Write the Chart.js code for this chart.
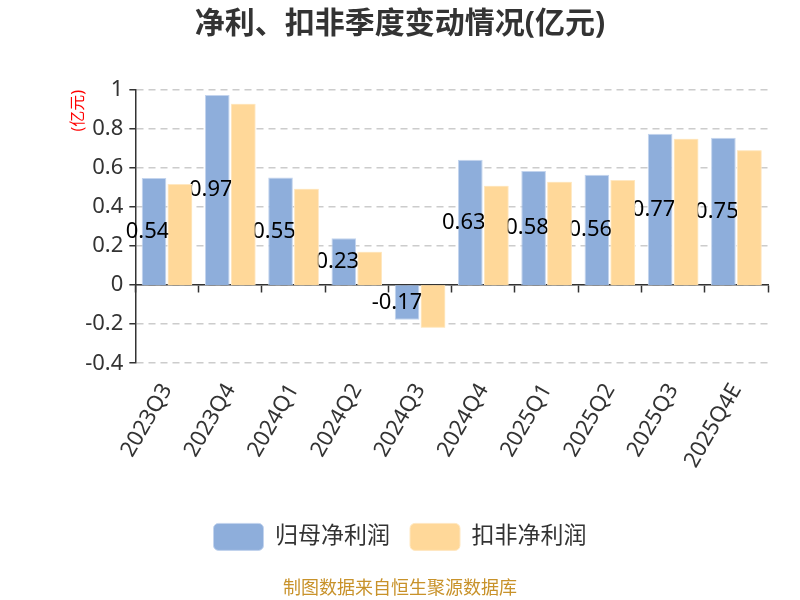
<!DOCTYPE html>
<html>
<head>
<meta charset="utf-8">
<script src="https://cdn.jsdelivr.net/npm/chart.js@4.4.1/dist/chart.umd.min.js"></script>
<style>
  html, body { margin: 0; padding: 0; background: #fff; }
  #wrap { width: 800px; height: 600px; }
</style>
</head>
<body>
<div id="wrap"><canvas id="chart"></canvas></div>
<script>
// données
const quarters = ["2023Q3", "2023Q4", "2024Q1", "2024Q2", "2024Q3", "2024Q4", "2025Q1", "2025Q2", "2025Q3", "2025Q4E"];
const netProfit = [0.549, 0.974, 0.552, 0.240, -0.177, 0.643, 0.585, 0.566, 0.776, 0.755];
const netProfitLabels = ["0.54", "0.97", "0.55", "0.23", "-0.17", "0.63", "0.58", "0.56", "0.77", "0.75"];
const deductedProfit = [0.518, 0.930, 0.494, 0.171, -0.218, 0.510, 0.530, 0.539, 0.750, 0.691];
const seriesNames = ["归母净利润", "扣非净利润"];

const FONT = "'Noto Sans', 'Noto Sans CJK SC', sans-serif";

// étiquettes au milieu des barres bleues, puis on redessine les barres orange par-dessus
const barLabels = {
  id: "barLabels",
  afterDatasetDraw(chart, args) {
    if (args.index !== 0) return;
    const ctx = chart.ctx;
    ctx.save();
    ctx.font = "22px " + FONT;
    ctx.fillStyle = "#000";
    ctx.textAlign = "right";
    ctx.textBaseline = "middle";
    args.meta.data.forEach((bar, i) => {
      const p = bar.getProps(["x", "y", "base", "width"], true);
      ctx.fillText(netProfitLabels[i], p.x + p.width / 2 + 3, (p.y + p.base) / 2);
    });
    chart.getDatasetMeta(1).data.forEach((el) => el.draw(ctx));
    ctx.restore();
  },
};

new Chart(document.getElementById("chart"), {
  type: "bar",
  data: {
    labels: quarters,
    datasets: [
      {
        label: seriesNames[0],
        data: netProfit,
        xAxisID: "x",
        backgroundColor: "#8eaedb",
        borderColor: "#c3d4ee",
        borderWidth: 1,
      },
      {
        label: seriesNames[1],
        data: deductedProfit,
        xAxisID: "x",
        backgroundColor: "#ffd899",
        borderColor: "#ffe8c2",
        borderWidth: 1,
      },
    ],
  },
  options: {
    responsive: true,
    maintainAspectRatio: false,
    animation: false,
    datasets: { bar: { barPercentage: 0.95, categoryPercentage: 0.82 } },
    layout: { padding: { left: 32, right: 32, top: 0, bottom: 0 } },
    plugins: {
      tooltip: { enabled: false },
      title: {
        display: true,
        text: "净利、扣非季度变动情况(亿元)",
        color: "#333",
        font: { family: FONT, size: 30, weight: "bold" },
        padding: { top: 6, bottom: 48 },
      },
      subtitle: {
        display: true,
        position: "bottom",
        text: "制图数据来自恒生聚源数据库",
        color: "#c8922a",
        font: { family: FONT, size: 18 },
        padding: { top: 18, bottom: 0 },
      },
      legend: {
        position: "bottom",
        labels: {
          color: "#333",
          font: { family: FONT, size: 23 },
          boxWidth: 50,
          boxHeight: 27,
          useBorderRadius: true,
          borderRadius: 5,
          padding: 20,
        },
      },
    },
    scales: {
      x: {
        type: "category",
        grid: { display: false },
        border: { display: false },
        ticks: {
          color: "#333",
          font: { family: FONT, size: 22 },
          maxRotation: 60,
          minRotation: 60,
          padding: 8,
        },
        title: {
          display: true,
          text: " ",
          color: "rgba(0,0,0,0)",
          font: { size: 10 },
          padding: { top: 0, bottom: 11 },
        },
      },
      x2: {
        type: "category",
        axis: "x",
        position: { y: 0 },
        grid: {
          display: true,
          drawOnChartArea: false,
          offset: true,
          tickLength: 7,
          tickColor: "#333",
          tickWidth: 1.5,
          color: "#333",
        },
        border: { color: "#333", width: 1.5 },
        ticks: { display: false },
      },
      y: {
        min: -0.4,
        max: 1,
        ticks: {
          stepSize: 0.2,
          color: "#333",
          font: { family: FONT, size: 22 },
          padding: 6,
          callback: (v) => String(+v.toFixed(2)),
        },
        grid: {
          color: "#cccccc",
          lineWidth: 1.5,
          tickLength: 6,
          tickColor: "#333",
          tickWidth: 1.5,
          tickBorderDash: [],
        },
        border: { color: "#333", width: 1.5, dash: [7, 5] },
        title: {
          display: true,
          text: "(亿元)",
          color: "#ff0000",
          align: "end",
          font: { family: FONT, size: 16 },
          padding: { top: 37, bottom: -9 },
        },
      },
    },
  },
  plugins: [barLabels],
});
</script>
</body>
</html>
